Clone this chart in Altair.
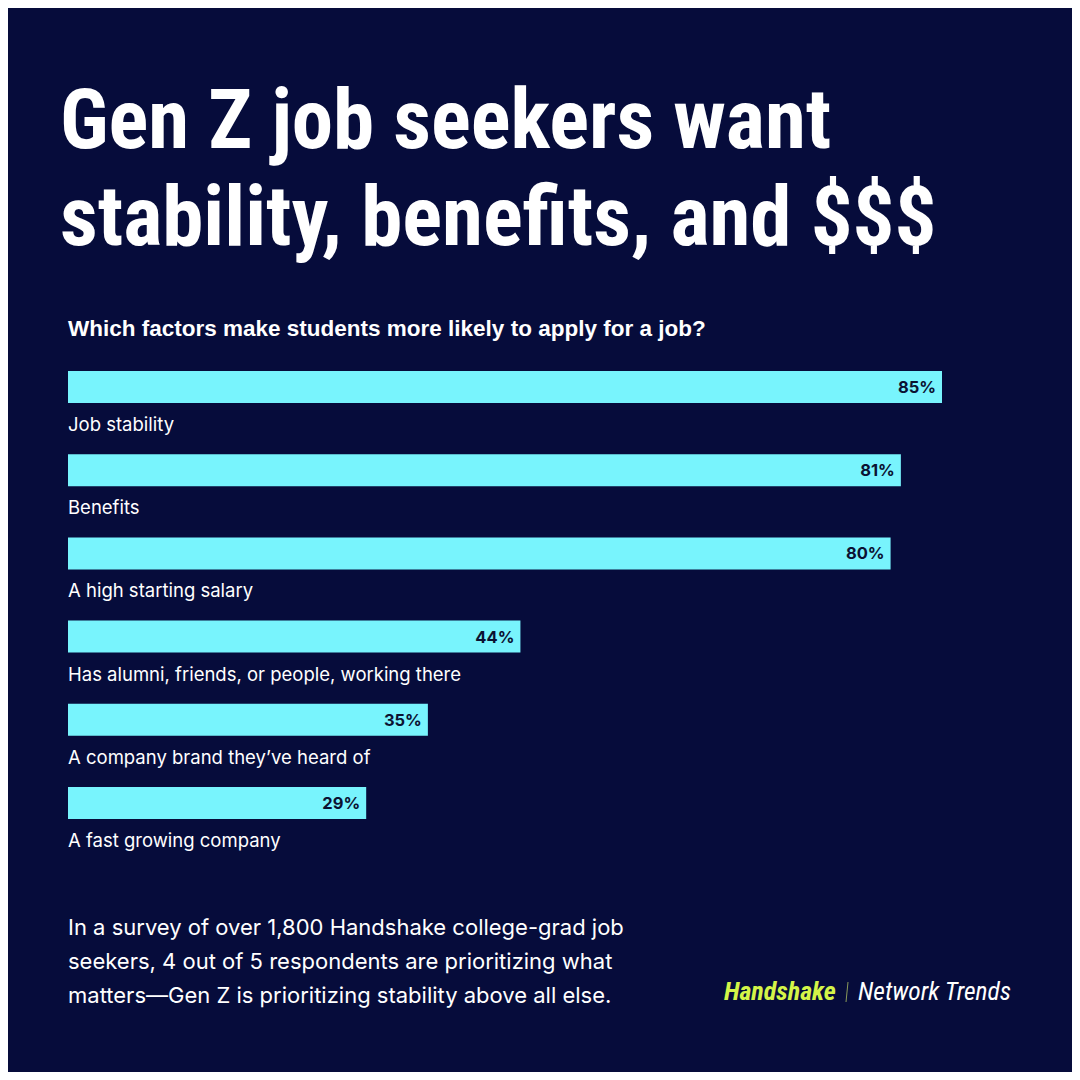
import altair as alt
import pandas as pd

# ---- data ----
factors = [
    "Job stability",
    "Benefits",
    "A high starting salary",
    "Has alumni, friends, or people, working there",
    "A company brand they\u2019ve heard of",
    "A fast growing company",
]
shares = [85, 81, 80, 44, 35, 29]
value_labels = ["85%", "81%", "80%", "44%", "35%", "29%"]

title_lines = ["Gen Z job seekers want", "stability, benefits, and $$$"]
subtitle = "Which factors make students more likely to apply for a job?"
footnote = [
    "In a survey of over 1,800 Handshake college-grad job",
    "seekers, 4 out of 5 respondents are prioritizing what",
    "matters\u2014Gen Z is prioritizing stability above all else.",
]
brand = "Handshake"
brand2 = "Network Trends"

df = pd.DataFrame({"factor": factors, "share": shares, "label": value_labels})

BG = "#060c3b"
BAR = "#78f4fd"
WHITE = "#ffffff"
GREEN = "#d4f548"
BODY_FONT = "Inter, Liberation Sans"
SUB_FONT = "Liberation Sans"
COND_FONT = "Roboto Condensed, DejaVu Sans Condensed"

x_scale = alt.Scale(domain=[0, 85], range=[60, 934])
y_scale = alt.Scale(domain=factors, range=[363, 811], paddingInner=0.615, paddingOuter=0)

base = alt.Chart(df)

bars = base.mark_bar(color=BAR, cornerRadius=0).encode(
    x=alt.X("share:Q", scale=x_scale, axis=None),
    x2=alt.datum(0),
    y=alt.Y("factor:N", scale=y_scale, axis=None, sort=factors),
)

pct = base.mark_text(
    align="right", baseline="middle", dx=-6, dy=1,
    font=BODY_FONT, fontSize=16.5, fontWeight="bold", color="#0b1232",
).encode(
    x=alt.X("share:Q", scale=x_scale, axis=None),
    y=alt.Y("factor:N", scale=y_scale, axis=None, sort=factors),
    text="label:N",
)

names = base.mark_text(
    align="left", baseline="middle", dy=38,
    font=BODY_FONT, fontSize=18.5, color=WHITE,
).encode(
    x=alt.value(60),
    y=alt.Y("factor:N", scale=y_scale, axis=None, sort=factors),
    text="factor:N",
)

def label(text, x, y, size, weight="normal", color=WHITE, font=BODY_FONT,
          style="normal", line_height=None):
    kw = dict(align="left", baseline="alphabetic", font=font, fontSize=size,
              fontWeight=weight, color=color, fontStyle=style)
    if line_height is not None:
        kw["lineHeight"] = line_height
    return alt.Chart(df.head(1)).mark_text(**kw).encode(
        x=alt.value(x), y=alt.value(y), text=alt.value(text)
    )

title1 = label(title_lines[0], 52, 140, 83, "bold", font=COND_FONT)
title2 = label(title_lines[1], 52, 237, 83, "bold", font=COND_FONT)
sub = label(subtitle, 60, 328, 22.5, "bold", font=SUB_FONT)
foot = label(footnote, 60, 927, 22, line_height=34)
logo1 = label(brand, 716, 992, 26, "bold", GREEN, COND_FONT, "italic")
logo2 = label(brand2, 850, 992, 25.5, "normal", WHITE, COND_FONT, "italic")
slash = alt.Chart(df.head(1)).mark_rule(color="#8a9a5a", strokeWidth=1).encode(
    x=alt.value(840), x2=alt.value(838), y=alt.value(974), y2=alt.value(994)
)

chart = alt.layer(
    bars, pct, names, title1, title2, sub, foot, logo1, logo2, slash
).properties(
    width=1064, height=1064, background=BG,
    autosize=alt.AutoSizeParams(type="none"), padding=0,
).configure_view(stroke=None)

chart.save("out.html", embed_options={"renderer": "svg", "actions": False})
